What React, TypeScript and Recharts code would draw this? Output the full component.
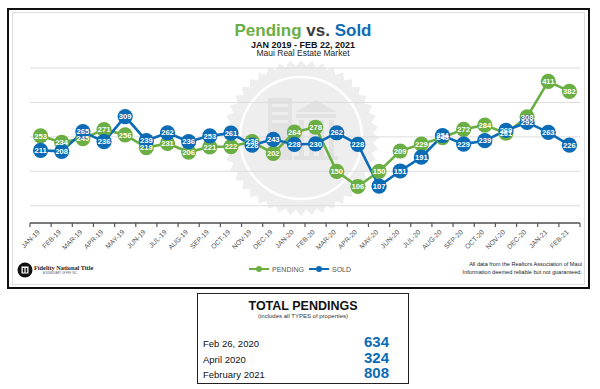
import { LineChart, Line, XAxis, YAxis, CartesianGrid, LabelList } from 'recharts';

const months = [
  'JAN-19', 'FEB-19', 'MAR-19', 'APR-19', 'MAY-19', 'JUN-19', 'JUL-19', 'AUG-19', 'SEP-19', 'OCT-19',
  'NOV-19', 'DEC-19', 'JAN-20', 'FEB-20', 'MAR-20', 'APR-20', 'MAY-20', 'JUN-20', 'JUL-20', 'AUG-20',
  'SEP-20', 'OCT-20', 'NOV-20', 'DEC-20', 'JAN-21', 'FEB-21',
];
const pending = [253, 234, 245, 271, 256, 219, 231, 206, 221, 222, 236, 202, 264, 278, 150, 106, 150, 209, 229, 248, 272, 284, 261, 308, 411, 382];
const sold = [211, 208, 265, 236, 309, 239, 262, 236, 253, 261, 226, 243, 228, 230, 262, 228, 107, 151, 191, 254, 229, 239, 269, 292, 263, 226];
const yTicks = [0, 50, 100, 150, 200, 250, 300, 350, 400, 450];

const totalLabels = ['Feb 26, 2020', 'April 2020', 'February 2021'];
const totalValues = [634, 324, 808];

const GREEN = '#6BAE43';
const BLUE = '#0B6BB5';
const FONT = 'Arial, "Liberation Sans", sans-serif';

const PLOT_LEFT = 30;
const PLOT_RIGHT = 580;
const BAND = (PLOT_RIGHT - PLOT_LEFT) / months.length;

const data = months.map((m, i) => ({ month: m, pending: pending[i], sold: sold[i] }));

const makeDot = (color: string) => (props: any) => {
  const { cx, cy, index } = props;
  if (cx == null || cy == null) return <g key={index} />;
  return <circle key={index} cx={cx} cy={cy} r={7.6} fill={color} />;
};

const renderValue = (props: any) => {
  const { x, y, value } = props;
  return (
    <text x={x} y={y} dy="0.36em" textAnchor="middle" fill="#fff" fontSize={7.6} fontWeight="bold" fontFamily={FONT}>
      {value}
    </text>
  );
};

const MonthTick = (props: any) => {
  const { x, y, payload, index } = props;
  const axisY = y - 6;
  return (
    <g>
      <line x1={x - BAND / 2} y1={axisY} x2={x - BAND / 2} y2={axisY + 4} stroke="#555" strokeWidth={1.2} />
      {index === months.length - 1 && (
        <line x1={x + BAND / 2} y1={axisY} x2={x + BAND / 2} y2={axisY + 4} stroke="#555" strokeWidth={1.2} />
      )}
      <text
        x={x - 2}
        y={y + 2}
        dy="0.35em"
        textAnchor="end"
        transform={`rotate(-45 ${x - 2} ${y + 2})`}
        fontSize={6.8}
        fill="#555"
        fontFamily={FONT}
      >
        {payload.value}
      </text>
    </g>
  );
};

// faint seal watermark behind the plot
const Seal = () => {
  const cx = 301, cy = 138, teeth = 44;
  const pts: string[] = [];
  for (let i = 0; i < teeth * 2; i++) {
    const a = (Math.PI * i) / teeth;
    const r = i % 2 === 0 ? 78 : 72;
    pts.push(`${(cx + r * Math.cos(a)).toFixed(1)},${(cy + r * Math.sin(a)).toFixed(1)}`);
  }
  return (
    <svg width={600} height={389} style={{ position: 'absolute', left: 0, top: 0 }}>
      <polygon points={pts.join(' ')} fill="#eeeeee" />
      <circle cx={cx} cy={cy} r={61} fill="none" stroke="#fff" strokeWidth={2.5} />
      <rect x={268} y={98} width={24} height={62} fill="#e2e2e2" />
      <rect x={272} y={104} width={16} height={3} fill="#eeeeee" />
      <rect x={272} y={112} width={16} height={3} fill="#eeeeee" />
      <rect x={272} y={120} width={16} height={3} fill="#eeeeee" />
      <polygon points="296,112 316,100 336,112" fill="#e2e2e2" />
      <rect x={296} y={114} width={40} height={4} fill="#e2e2e2" />
      <rect x={299} y={120} width={5} height={36} fill="#e2e2e2" />
      <rect x={309} y={120} width={5} height={36} fill="#e2e2e2" />
      <rect x={319} y={120} width={5} height={36} fill="#e2e2e2" />
      <rect x={329} y={120} width={5} height={36} fill="#e2e2e2" />
      <rect x={294} y={156} width={44} height={4} fill="#e2e2e2" />
    </svg>
  );
};

export default function App() {
  return (
    <div style={{ position: 'absolute', left: 0, top: 0, width: 600, height: 389, background: '#fff', fontFamily: FONT, overflow: 'hidden' }}>
      <div style={{ position: 'absolute', left: 7, top: 8, width: 583, height: 281, border: '2px solid #111', boxSizing: 'border-box' }} />
      <div style={{ position: 'absolute', left: 12, top: 12, width: 573, height: 273, border: '1px solid #dedede', boxSizing: 'border-box' }} />
      <Seal />

      <div style={{ position: 'absolute', left: 0, top: 0 }}>
        <LineChart width={600} height={290} data={data} margin={{ top: 68, right: 600 - PLOT_RIGHT, bottom: 37, left: PLOT_LEFT }}>
          <CartesianGrid vertical={false} stroke="#dcdcdc" strokeWidth={1} />
          <YAxis hide type="number" domain={[0, 450]} ticks={yTicks} />
          <XAxis
            dataKey="month"
            height={30}
            interval={0}
            padding={{ left: BAND / 2, right: BAND / 2 }}
            axisLine={{ stroke: '#555', strokeWidth: 1.6 }}
            tickLine={false}
            tickSize={4}
            tickMargin={2}
            tick={<MonthTick />}
          />
          <Line type="linear" dataKey="pending" stroke={GREEN} strokeWidth={2.6} dot={makeDot(GREEN)} activeDot={false} isAnimationActive={false} />
          <Line type="linear" dataKey="sold" stroke={BLUE} strokeWidth={2.6} dot={makeDot(BLUE)} activeDot={false} isAnimationActive={false} />
          <Line dataKey="pending" stroke="none" dot={false} activeDot={false} isAnimationActive={false}>
            <LabelList dataKey="pending" content={renderValue} />
          </Line>
          <Line dataKey="sold" stroke="none" dot={false} activeDot={false} isAnimationActive={false}>
            <LabelList dataKey="sold" content={renderValue} />
          </Line>
        </LineChart>
      </div>

      <div style={{ position: 'absolute', left: 0, top: 22, width: 606, textAlign: 'center', fontSize: 17, fontWeight: 'bold', lineHeight: 1, color: '#3a3a3a' }}>
        <span style={{ color: GREEN }}>Pending</span> vs. <span style={{ color: BLUE }}>Sold</span>
      </div>
      <div style={{ position: 'absolute', left: 0, top: 40.5, width: 606, textAlign: 'center', fontSize: 9, fontWeight: 'bold', lineHeight: 1, color: '#111' }}>
        JAN 2019 - FEB 22, 2021
      </div>
      <div style={{ position: 'absolute', left: 0, top: 49, width: 606, textAlign: 'center', fontSize: 8.5, lineHeight: 1, color: '#222' }}>
        Maui Real Estate Market
      </div>

      {/* legend */}
      <svg width={130} height={12} style={{ position: 'absolute', left: 246, top: 263 }}>
        <line x1={3} y1={6} x2={23} y2={6} stroke={GREEN} strokeWidth={2} />
        <circle cx={13} cy={6} r={3} fill={GREEN} />
        <text x={26} y={8.5} fontSize={7} fill="#555" fontFamily={FONT}>PENDING</text>
        <line x1={63} y1={6} x2={83} y2={6} stroke={BLUE} strokeWidth={2} />
        <circle cx={73} cy={6} r={3} fill={BLUE} />
        <text x={86} y={8.5} fontSize={7} fill="#555" fontFamily={FONT}>SOLD</text>
      </svg>

      {/* Fidelity logo */}
      <svg width={90} height={20} style={{ position: 'absolute', left: 16, top: 260 }}>
        <circle cx={9} cy={10} r={7.5} fill="#111" />
        <rect x={5.5} y={6.5} width={7} height={7} fill="#fff" />
        <rect x={6.8} y={8} width={1.6} height={4.5} fill="#111" />
        <rect x={9.6} y={8} width={1.6} height={4.5} fill="#111" />
        <text x={18} y={9.5} fontSize={6.3} fontWeight="bold" fill="#222" fontFamily='"Liberation Serif", "DejaVu Serif", serif'>Fidelity National Title</text>
        <text x={27} y={14} fontSize={2.6} fill="#555" fontFamily={FONT}>A SUBSIDIARY OF FNF, INC.</text>
      </svg>

      <div style={{ position: 'absolute', right: 18, top: 261, textAlign: 'right', fontSize: 5.6, lineHeight: '7.5px', color: '#222' }}>
        All data from the Realtors Association of Maui<br />
        Information deemed reliable but not guaranteed.
      </div>

      {/* totals box */}
      <div style={{ position: 'absolute', left: 197, top: 293, width: 212, height: 91, border: '1px solid #222', boxSizing: 'border-box' }}>
        <div style={{ position: 'absolute', left: 0, top: 6, width: 210, textAlign: 'center', fontSize: 12.5, fontWeight: 'bold', lineHeight: 1, color: '#111' }}>
          TOTAL PENDINGS
        </div>
        <div style={{ position: 'absolute', left: 0, top: 19, width: 210, textAlign: 'center', fontSize: 6, lineHeight: 1, color: '#333' }}>
          (includes all TYPES of properties)
        </div>
        {totalLabels.map((label, i) => (
          <div key={label} style={{ position: 'absolute', left: 5, top: 39 + i * 15.5, width: 196, height: 15, display: 'flex', justifyContent: 'space-between', alignItems: 'baseline' }}>
            <span style={{ fontSize: 9.5, color: '#111' }}>{label}</span>
            <span style={{ fontSize: 15, fontWeight: 'bold', color: BLUE, marginRight: 10 }}>{totalValues[i]}</span>
          </div>
        ))}
      </div>
    </div>
  );
}
